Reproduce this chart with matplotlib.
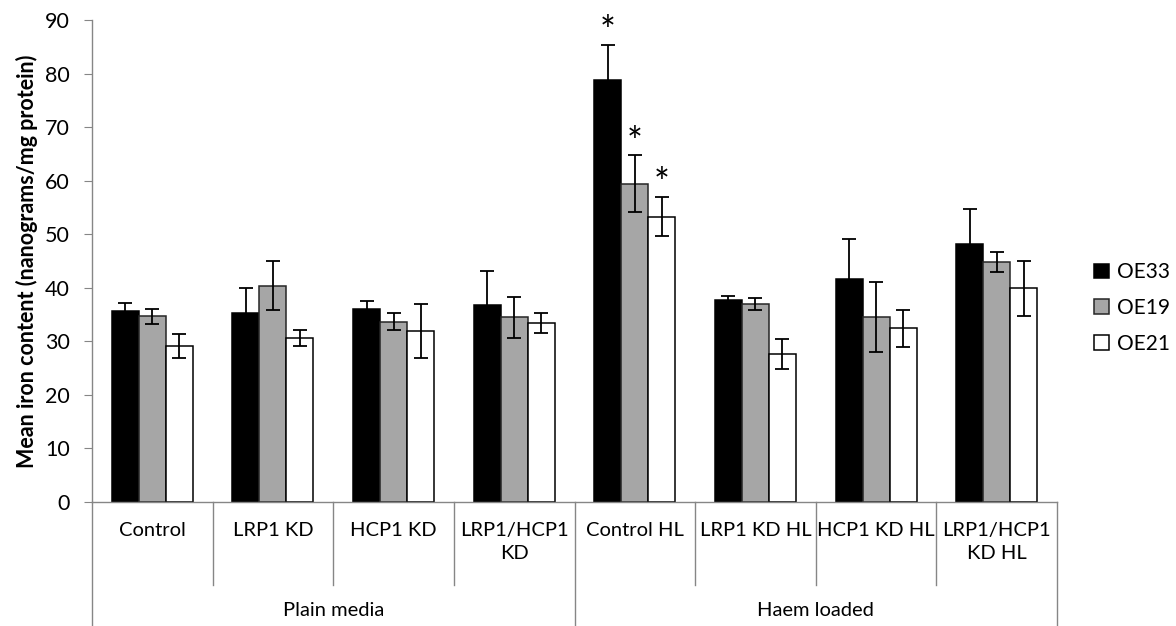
import numpy as np
import matplotlib
matplotlib.use("Agg")
import matplotlib.pyplot as plt
import matplotlib.transforms as mtransforms

plt.rcParams['font.family'] = ['Lato', 'DejaVu Sans']

# data
categories = ["Control", "LRP1 KD", "HCP1 KD", "LRP1/HCP1\nKD",
              "Control HL", "LRP1 KD HL", "HCP1 KD HL", "LRP1/HCP1\nKD HL"]
groups = ["Plain media", "Haem loaded"]
series = ["OE33", "OE19", "OE21"]

oe33 = [35.6, 35.2, 36.0, 36.8, 78.8, 37.7, 41.6, 48.1]
oe19 = [34.7, 40.4, 33.7, 34.5, 59.4, 36.9, 34.5, 44.8]
oe21 = [29.1, 30.7, 31.9, 33.4, 53.3, 27.6, 32.4, 39.9]

oe33_err = [1.5, 4.7, 1.6, 6.4, 6.6, 0.8, 7.6, 6.6]
oe19_err = [1.4, 4.6, 1.5, 3.8, 5.3, 1.1, 6.5, 1.8]
oe21_err = [2.3, 1.5, 5.1, 1.9, 3.7, 2.8, 3.5, 5.1]

# which bars carry a significance star (category index, series index)
stars = [(4, 0), (4, 1), (4, 2)]

colors = ["#000000", "#a6a6a6", "#ffffff"]
edges = ["#000000", "#262626", "#000000"]
grey = "#868686"

W, H = 1176, 626
fig = plt.figure(figsize=(W / 100, H / 100), dpi=100)
ax = fig.add_axes([92 / W, 1 - 502 / H, (1057 - 92) / W, (502 - 20) / H])

x = np.arange(len(categories)) + 0.5
bw = 0.224
vals = [oe33, oe19, oe21]
errs = [oe33_err, oe19_err, oe21_err]
for k in range(3):
    pos = x + (k - 1) * bw
    ax.bar(pos, vals[k], bw, color=colors[k], edgecolor=edges[k],
           linewidth=1.1, label=series[k], zorder=2)
    ax.errorbar(pos, vals[k], yerr=errs[k], fmt="none", ecolor="black",
                elinewidth=1.3, capsize=5, capthick=1.3, zorder=3)

for ci, si in stars:
    ax.text(x[ci] + (si - 1) * bw, vals[si][ci] + errs[si][ci] - 1.2, "*",
            ha="center", va="bottom", fontsize=27, zorder=4)

ax.set_xlim(0, len(categories))
ax.set_ylim(0, 90)
ax.set_yticks(np.arange(0, 91, 10))
ax.tick_params(axis="y", direction="out", length=6, color=grey, labelsize=15.5, pad=10)
ax.set_xticks([])
for s in ["top", "right"]:
    ax.spines[s].set_visible(False)
for s in ["left", "bottom"]:
    ax.spines[s].set_color(grey)
    ax.spines[s].set_linewidth(1.0)

ax.set_ylabel("Mean iron content (nanograms/mg protein)", fontsize=15.5,
              fontweight="bold", labelpad=5)

# two-level category axis below the plot
tr = mtransforms.blended_transform_factory(ax.transData, ax.transAxes)
px = 1.0 / (502 - 20)
for i in range(len(categories) + 1):
    long_line = i % 4 == 0
    y_end = -(626 - 502) * px if long_line else -(585 - 502) * px
    ax.plot([i, i], [0, y_end], color=grey, lw=1.0, transform=tr, clip_on=False)
for i, c in enumerate(categories):
    ax.text(x[i], -(522 - 502) * px, c, transform=tr, ha="center", va="top",
            fontsize=14.5, linespacing=1.45)
for g, name in enumerate(groups):
    ax.text(2 + 4 * g, -(611 - 502) * px, name, transform=tr, ha="center",
            va="center", fontsize=14.5)

leg = fig.legend(loc="upper left", bbox_to_anchor=(1086 / W, 1 - 254 / H),
                 frameon=False, fontsize=15, handlelength=0.7, handleheight=0.7,
                 labelspacing=0.75, handletextpad=0.4, borderaxespad=0)

fig.savefig("out.png", dpi=100)
